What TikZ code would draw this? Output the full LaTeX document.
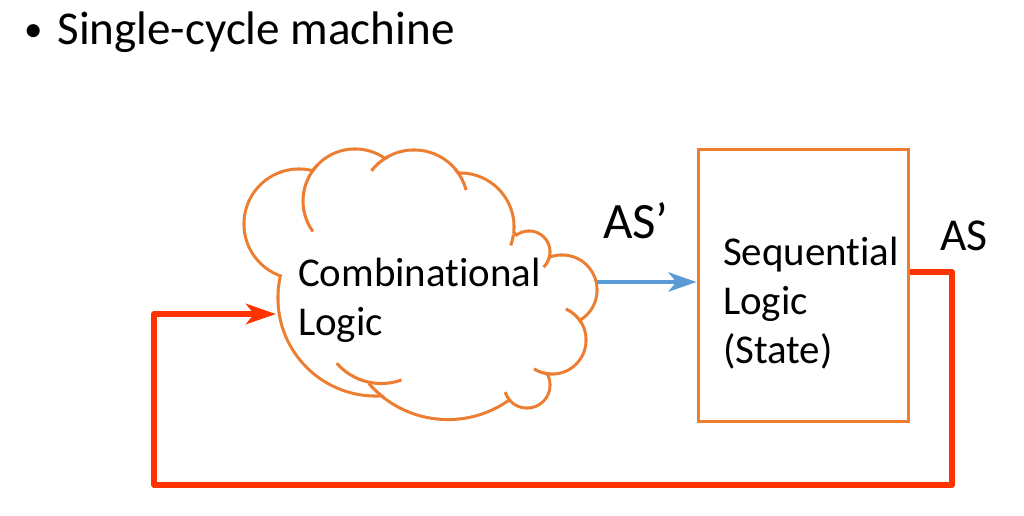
\documentclass[tikz,border=0pt]{standalone}
\usepackage{fontspec}
\setmainfont{Carlito}[Ligatures=NoCommon]
\usetikzlibrary{arrows.meta}
\definecolor{cloudorange}{RGB}{237,125,49}
\definecolor{flowblue}{RGB}{91,155,213}
\definecolor{loopred}{RGB}{255,51,0}

\begin{document}
\begin{tikzpicture}[x=0.02cm, y=0.02cm,
    every node/.style={inner sep=0pt, outer sep=0pt},
    body/.style={font=\fontsize{23.3}{27.7}\selectfont, align=left, anchor=base west},
    lbl/.style={anchor=base west},
    puff/.style={cloudorange, line width=3.5pt},
    rim/.style={cloudorange, line width=1.75pt},
    flow/.style={flowblue, line width=2.5pt, -{Stealth[length=16pt, width=11pt, inset=4.5pt]}},
    feedback/.style={loopred, line width=3.1pt, line join=round, -{Stealth[length=17pt, width=11.5pt, inset=4.5pt]}}]
\useasboundingbox (0,0) rectangle (1024,-515);

\node[lbl, font=\fontsize{26.8}{32}\selectfont] (title) at (24,-44.3)
  {\raisebox{0.06em}{\fontsize{21}{21}\selectfont •}\hspace{0.32em}Single-cycle machine};

% cloud: stroke every puff, then paint them white, so only the rim is left
\foreach \cx/\cy/\r in {299/224/53.5, 355/201/50.5, 414/204/52.5, 460/227/52.5, 529/252/19.5,
    562/290/33.5, 552/340/32.5, 527/385/21.5, 448/314.5/103.5, 376/298/96.5}
  \draw[puff] (\cx,-\cy) circle[radius=\r];
\foreach \cx/\cy/\r in {299/224/53.5, 355/201/50.5, 414/204/52.5, 460/227/52.5, 529/252/19.5,
    562/290/33.5, 552/340/32.5, 527/385/21.5, 448/314.5/103.5, 376/298/96.5}
  \fill[white] (\cx,-\cy) circle[radius=\r];
% short inner arcs of the cloud
\foreach \cx/\cy/\r/\a/\b in {355/201/52/135/216, 414/204/54/118/142, 414/204/54/40/15,
    460/227/54/-8/-20, 529/252/21/-8/-46, 552/340/34/30/66, 552/340/34/266/238,
    527/385/23/224/198, 448/314.5/105/233/221, 381.3/324.5/59/221/290}
  \draw[rim] (\cx,-\cy) ++(\a:\r) arc[start angle=\a, end angle=\b, radius=\r];

\node[body] (comb) at (298,-335) {Combinational\\Logic};

\node[draw=cloudorange, line width=1.7pt, outer sep=0.85pt, minimum width=4.22cm, minimum height=5.46cm] (seq) at (803.5,-285.5) {};
\node[body] (seqtext) at (723,-363.3) {Sequential\\Logic\\(State)};

\node[lbl, font=\fontsize{29}{34}\selectfont] (asnext) at (603,-238.3) {AS’};
\node[lbl, font=\fontsize{26}{31}\selectfont] (ascur) at (940,-250) {AS};

\coordinate (combout) at (597,-282);
\coordinate (combin) at (276,-314);
\coordinate (loopcorner) at (154,-485);

\draw[flow] (combout) -- (seq.west |- combout);
\draw[feedback] ([yshift=0.27cm]seq.east) -- ++(41.5,0) |- (loopcorner) |- (combin);
\end{tikzpicture}
\end{document}
